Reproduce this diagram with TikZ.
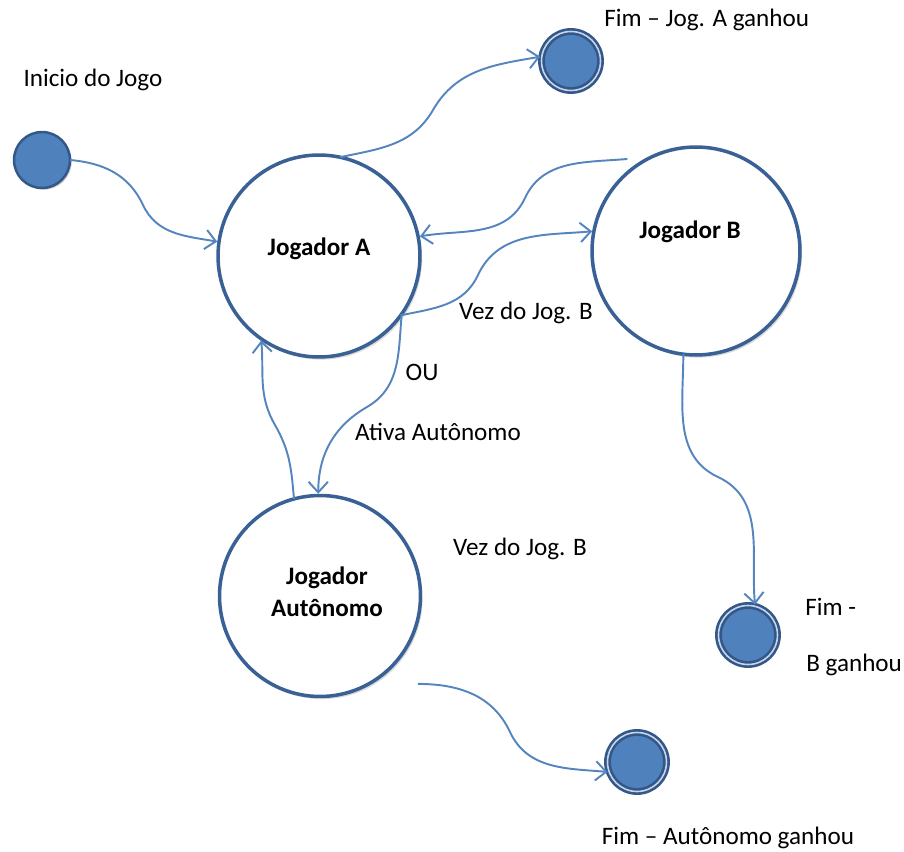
\documentclass[tikz,border=0pt]{standalone}
\usepackage{fontspec}
\setmainfont{Carlito}
\usetikzlibrary{arrows.meta,shadows}
\definecolor{ringblue}{HTML}{3A6195}
\definecolor{fillblue}{HTML}{4F81BD}
\definecolor{darkblue}{HTML}{34578A}
\definecolor{lineblue}{HTML}{5584BE}
\definecolor{paleblue}{HTML}{C6D6EA}
\tikzset{
  state/.style={circle, draw=ringblue, line width=2pt, fill=white, minimum size=#1, inner sep=0pt, outer sep=0pt,
    drop shadow={shadow xshift=1.2pt, shadow yshift=-1.5pt, opacity=0.15, fill=black}},
  startdot/.style={circle, draw=darkblue, line width=1.4pt, fill=fillblue, minimum size=1.12cm, inner sep=0pt, outer sep=0pt,
    drop shadow={shadow xshift=1pt, shadow yshift=-1pt, opacity=0.2, fill=black}},
  enddot/.style={circle, draw=darkblue, line width=1.5pt, fill=fillblue, minimum size=1.18cm, inner sep=0pt, outer sep=0pt,
    double=paleblue, double distance=0.9pt,
    drop shadow={shadow xshift=1pt, shadow yshift=-1pt, opacity=0.2, fill=black}},
  flow/.style={draw=lineblue, line width=1.1pt, -{Straight Barb[length=6pt,width=11pt,line width=1.1pt]}, shorten >=1pt},
  lbl/.style={font=\fontsize{14.3}{17}\selectfont, inner sep=0pt},
  title/.style={font=\fontsize{14.3}{17}\selectfont\bfseries, align=center, inner sep=0pt}
}
\begin{document}
\begin{tikzpicture}[x=0.02cm,y=-0.02cm]
\useasboundingbox (0,0) rectangle (904,852);

% states
\node[state=4.04cm] (A) at (319,256) {};
\node[state=4.16cm] (B) at (696,251) {};
\node[state=4.02cm] (C) at (320,596) {};
\node[title] (At) at (319,249) {Jogador A};
\node[title] (Bt) at (690,232) {Jogador B};
\node[title] (Ct1) at (327,578) {Jogador};
\node[title] (Ct2) at (327,608) {Autônomo};

\node[startdot] (S) at (42,160) {};
\node[enddot] (FA) at (571,61) {};
\node[enddot] (FB) at (748,635) {};
\node[enddot] (FC) at (637,762) {};

% labels
\node[lbl] (l1) at (93,80) {Inicio do Jogo};
\node[lbl, anchor=west] (l2) at (604,20) {Fim – Jog. A ganhou};
\node[lbl] (l3) at (526,313) {Vez do Jog. B};
\node[lbl] (l4) at (422,372) {OU};
\node[lbl] (l5) at (438,432) {Ativa Autônomo};
\node[lbl] (l6) at (520,549) {Vez do Jog. B};
\node[lbl, anchor=west] (l7) at (805,607) {Fim -};
\node[lbl, anchor=west] (l8) at (806,665) {B ganhou};
\node[lbl] (l9) at (728,838) {Fim – Autônomo ganhou};

% mid points
\coordinate (m1) at (143,205);
\coordinate (m2) at (433,110);
\coordinate (m3) at (525,198);
\coordinate (m4) at (478,275);
\coordinate (m5) at (367,407);
\coordinate (m6) at (275,425);
\coordinate (m7) at (718,477);
\coordinate (m8) at (510,732);

% connectors
\draw[flow] (S.east) to[out=-5,in=115] (m1) to[out=-65,in=170] (A.172);
\draw[flow] (A.78) to[out=12,in=240] (m2) to[out=60,in=190] (FA.171);
\draw[flow] ([shift={(-6,-9)}]B.127) to[out=185,in=65] (m3) to[out=245,in=10] (A.11);
\draw[flow] (A.-36) to[out=12,in=245] (m4) to[out=65,in=185] (B.169);
\draw[flow] (A.-35) to[out=-95,in=30] (m5) to[out=210,in=90] (C.91);
\draw[flow] (C.105) to[out=95,in=300] (m6) to[out=120,in=275] (A.-125);
\draw[flow] (B.-97) to[out=-90,in=155] (m7) to[out=-25,in=95] (FB.76);
\draw[flow] ([shift={(22,22)}]C.-41) to[out=0,in=115] (m8) to[out=-65,in=175] (FC.200);
\end{tikzpicture}
\end{document}
